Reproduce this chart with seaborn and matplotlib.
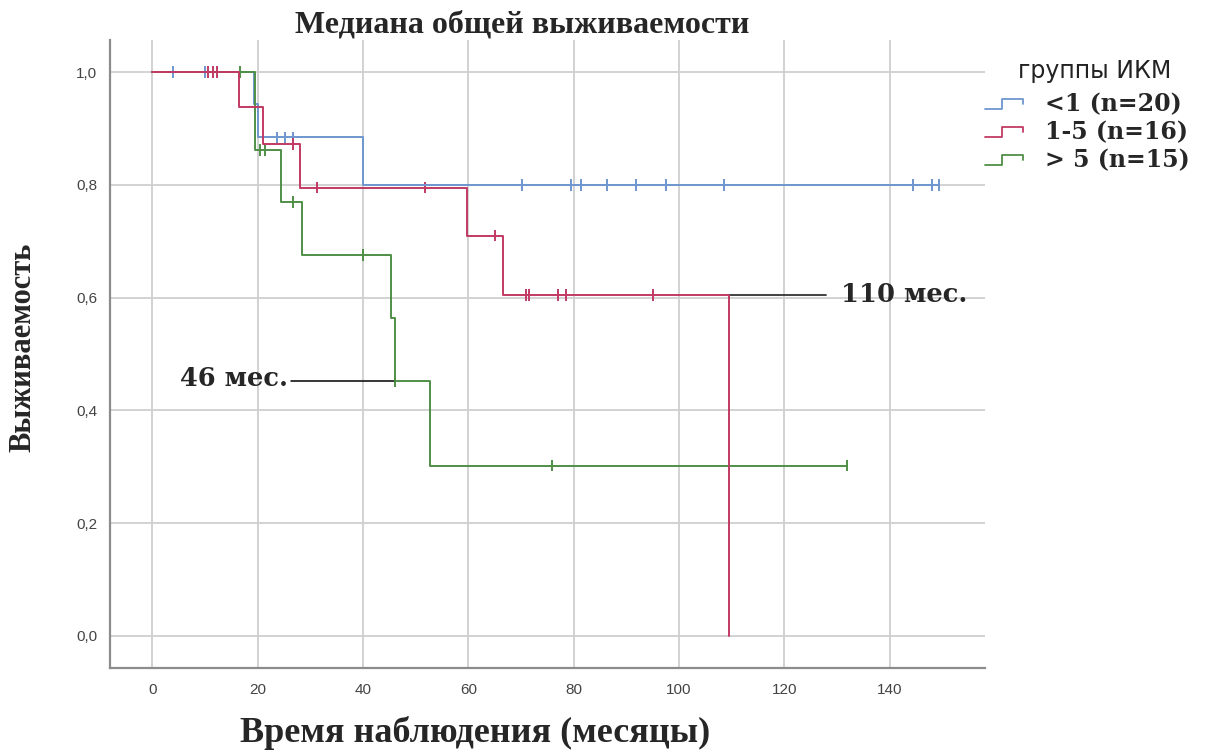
import numpy as np
import pandas as pd
import matplotlib
matplotlib.use("Agg")
import matplotlib.pyplot as plt
from matplotlib.lines import Line2D
from matplotlib.legend_handler import HandlerBase
from matplotlib.ticker import FuncFormatter
import seaborn as sns

# groups
groups = ["<1 (n=20)", "1-5 (n=16)", "> 5 (n=15)"]
colors = {"<1 (n=20)": "#6f96cf", "1-5 (n=16)": "#c23a63", "> 5 (n=15)": "#4f8f46"}

# survival steps (time in months, survival proportion)
blue_t = [0, 19.3, 20.0, 40.0, 149.4]
blue_s = [1.0, 0.944, 0.884, 0.800, 0.800]
red_t = [0, 16.5, 21.0, 28.0, 59.7, 66.6, 109.5]
red_s = [1.0, 0.9375, 0.872, 0.795, 0.710, 0.605, 0.0]
green_t = [0, 19.5, 24.5, 28.5, 45.3, 46.1, 52.7, 131.8]
green_s = [1.0, 0.862, 0.770, 0.675, 0.564, 0.452, 0.302, 0.302]

# censored observations
blue_ct = [3.9, 10.0, 23.6, 25.1, 26.7, 70.1, 79.5, 81.4, 86.4, 91.9, 97.6, 108.5, 144.4, 148.0, 149.4]
blue_cs = [1.0, 1.0, 0.884, 0.884, 0.884, 0.80, 0.80, 0.80, 0.80, 0.80, 0.80, 0.80, 0.80, 0.80, 0.80]
red_ct = [10.5, 11.5, 12.3, 26.7, 31.2, 51.7, 65.0, 71.0, 71.6, 77.0, 78.6, 95.0]
red_cs = [1.0, 1.0, 1.0, 0.872, 0.795, 0.795, 0.710, 0.605, 0.605, 0.605, 0.605, 0.605]
green_ct = [16.6, 20.4, 21.3, 26.7, 40.0, 46.1, 75.9, 131.8]
green_cs = [1.0, 0.862, 0.862, 0.770, 0.675, 0.452, 0.302, 0.302]

# medians
med_labels = ["46 мес.", "110 мес."]
med_x = [46.1, 109.5]
med_y = [0.452, 0.605]

xticks = [0, 20, 40, 60, 80, 100, 120, 140]
yticks = [0.0, 0.2, 0.4, 0.6, 0.8, 1.0]

curves = pd.concat([
    pd.DataFrame({"t": blue_t, "s": blue_s, "g": groups[0]}),
    pd.DataFrame({"t": green_t, "s": green_s, "g": groups[2]}),
    pd.DataFrame({"t": red_t, "s": red_s, "g": groups[1]}),
], ignore_index=True)
cens = pd.concat([
    pd.DataFrame({"t": blue_ct, "s": blue_cs, "g": groups[0]}),
    pd.DataFrame({"t": green_ct, "s": green_cs, "g": groups[2]}),
    pd.DataFrame({"t": red_ct, "s": red_cs, "g": groups[1]}),
], ignore_index=True)
draw_order = [groups[0], groups[2], groups[1]]

sns.set_style("whitegrid")
plt.rcParams["font.family"] = ["Liberation Serif", "DejaVu Serif"]

fig, ax = plt.subplots(figsize=(12.08, 7.53), dpi=100)
fig.subplots_adjust(left=0.091, right=0.815, top=0.947, bottom=0.113)

sns.lineplot(data=curves, x="t", y="s", hue="g", hue_order=draw_order, palette=colors,
             estimator=None, sort=False, drawstyle="steps-post", lw=1.4, legend=False, ax=ax)
sns.scatterplot(data=cens, x="t", y="s", hue="g", hue_order=draw_order, palette=colors,
                marker="|", s=70, linewidth=1.4, legend=False, ax=ax)

# median guide lines + labels (the pasted labels are wide, DejaVu Serif is closer)
ann_font = {"family": "DejaVu Serif", "weight": "bold", "size": 18.5}
ax.plot([26.3, med_x[0]], [med_y[0], med_y[0]], color="black", lw=1.1, zorder=1)
ax.text(25.8, med_y[0] + 0.005, med_labels[0], ha="right", va="center", fontdict=ann_font)
ax.plot([med_x[1], 127.9], [med_y[1], med_y[1]], color="#333333", lw=1.3, zorder=1)
ax.text(130.8, med_y[1], med_labels[1], ha="left", va="center", fontdict=ann_font,
        clip_on=False)

ax.set_xlim(-8.06, 158)
ax.set_ylim(-0.057, 1.057)
ax.set_xticks(xticks)
ax.set_yticks(yticks)
ax.yaxis.set_major_formatter(FuncFormatter(lambda v, p: f"{v:.1f}".replace(".", ",")))
ax.tick_params(length=0, labelsize=11, colors="#444444")
ax.tick_params(axis="x", pad=11)
ax.tick_params(axis="y", pad=9)
for lab in ax.get_xticklabels() + ax.get_yticklabels():
    lab.set_fontfamily("Liberation Sans")
ax.grid(color="#cfcfcf", lw=1.3)
for side in ["top", "right"]:
    ax.spines[side].set_visible(False)
for side in ["left", "bottom"]:
    ax.spines[side].set_color("#8c8c8c")
    ax.spines[side].set_linewidth(1.6)
ax.set_xlabel("")
ax.set_ylabel("")

fig.text(0.432, 0.967, "Медиана общей выживаемости", ha="center", va="center",
         fontsize=23, fontweight="bold")
fig.text(0.019, 0.539, "Выживаемость", ha="center", va="center", rotation=90,
         fontsize=22, fontweight="bold")
fig.text(0.393, 0.027, "Время наблюдения (месяцы)", ha="center", va="center",
         fontsize=26, fontweight="bold")


# step-shaped legend handle
class StepHandler(HandlerBase):
    def create_artists(self, legend, orig_handle, xdescent, ydescent, width, height, fontsize, trans):
        x = np.array([0, 0.45, 0.45, 1.0, 1.0]) * width - xdescent
        y = np.array([0.15, 0.15, 0.75, 0.75, 0.45]) * height - ydescent
        line = Line2D(x, y, color=orig_handle.get_color(), lw=1.3)
        line.set_transform(trans)
        return [line]


handles = [Line2D([], [], color=colors[g]) for g in groups]
leg = fig.legend(handles, groups, loc="upper left", bbox_to_anchor=(0.815, 0.877),
                 frameon=False, handler_map={Line2D: StepHandler()},
                 prop={"family": "DejaVu Serif", "weight": "bold", "size": 17},
                 handlelength=1.65, handletextpad=0.9, labelspacing=0.17,
                 borderpad=0, borderaxespad=0)
# legend title sits a bit apart from the entries in the original
fig.text(0.906, 0.906, "группы ИКМ", ha="center", va="center",
         family="DejaVu Sans", fontsize=17, color="#222222")

fig.savefig("out.png", dpi=100)
